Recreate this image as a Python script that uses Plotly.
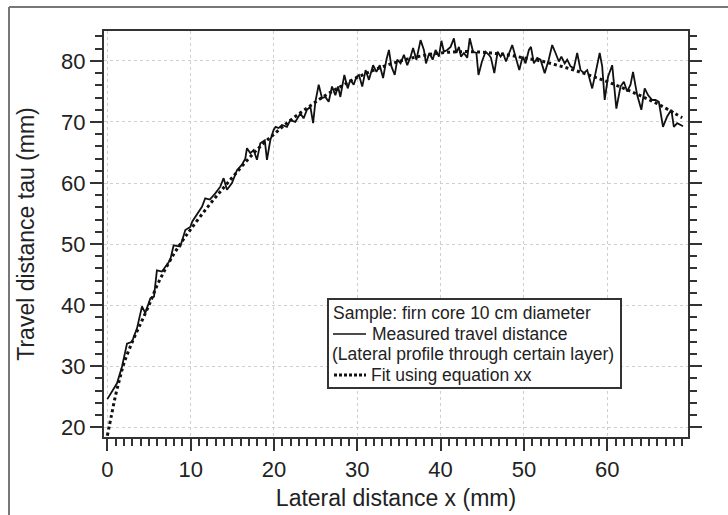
import plotly.graph_objects as go

# Measured travel distance
meas_x = [0.0, 0.75, 1.16, 1.76, 2.36, 2.96, 3.56, 4.16, 4.56, 5.16, 5.6, 5.95, 6.55, 7.15, 7.55, 7.96,
          8.76, 9.36, 9.96, 10.2, 10.76, 11.36, 11.75, 12.3, 12.96, 13.56, 13.96, 14.36, 14.96, 15.56,
          16.16, 16.56, 16.76, 17.16, 17.56, 17.96, 18.36, 18.9, 19.16, 19.56, 19.96, 20.2, 20.56, 20.96,
          21.56, 21.96, 22.56, 23.17, 23.56, 23.96, 24.37, 24.7, 24.97, 25.37, 25.77, 26.17, 26.57, 26.97,
          27.37, 27.7, 27.97, 28.45, 28.85, 29.17, 29.57, 29.9, 30.2, 30.6, 31.0, 31.4, 31.9, 32.3, 32.7,
          33.1, 33.5, 33.8, 34.1, 34.5, 34.8, 35.2, 35.6, 36.0, 36.4, 36.7, 37.1, 37.6, 38.0, 38.25, 38.65,
          39.05, 39.4, 39.8, 40.1, 40.4, 40.8, 41.2, 41.6, 41.9, 42.2, 42.45, 42.8, 43.2, 43.5, 43.9, 44.3,
          44.55, 44.97, 45.4, 45.8, 46.05, 46.45, 46.85, 47.2, 47.5, 47.85, 48.2, 48.6, 49.0, 49.45, 49.85,
          50.2, 50.6, 50.85, 51.2, 51.6, 52.0, 52.5, 52.98, 53.4, 53.8, 54.2, 54.5, 54.9, 55.2, 55.6, 56.0,
          56.4, 56.8, 57.2, 57.6, 58.2, 58.6, 59.1, 59.4, 59.7, 60.1, 60.6, 61.1, 61.6, 62.0, 62.4, 62.8,
          63.1, 63.6, 64.1, 64.5, 64.9, 65.4, 65.8, 66.2, 66.7, 67.2, 67.7, 68.0, 68.4, 69.1]
meas_y = [24.6, 26.3, 27.2, 29.9, 33.7, 34.0, 36.2, 39.8, 38.7, 41.1, 41.4, 45.7, 45.5, 46.6, 47.4, 49.8,
          49.6, 52.3, 52.8, 53.7, 54.8, 56.1, 57.5, 57.3, 58.3, 59.4, 60.8, 58.9, 60.0, 62.1,
          63.0, 64.0, 65.7, 64.9, 65.4, 63.8, 66.5, 67.0, 63.8, 67.0, 68.7, 69.2, 69.0, 69.5,
          69.2, 70.3, 70.0, 71.4, 70.6, 72.0, 72.5, 69.8, 73.3, 76.1, 73.9, 74.1, 73.3, 75.8,
          74.4, 75.8, 74.1, 77.7, 75.5, 76.9, 76.1, 77.4, 77.7, 75.8, 78.5, 76.9, 79.3, 78.2, 79.3,
          77.2, 80.2, 81.8, 79.1, 77.7, 80.2, 79.6, 81.0, 79.3, 80.7, 82.1, 80.2, 83.4, 81.8, 79.6, 81.3,
          80.2, 81.8, 80.7, 83.3, 81.5, 81.8, 82.3, 83.7, 81.3, 82.3, 80.7, 81.3, 80.5, 83.7, 81.5, 81.3,
          77.7, 79.9, 81.5, 81.0, 80.5, 78.0, 81.5, 80.7, 81.3, 79.9, 81.3, 82.6, 80.7, 78.5, 80.7,
          79.6, 81.8, 82.3, 79.6, 80.5, 80.2, 78.0, 80.2, 82.6, 81.3, 79.9, 80.7, 79.6, 80.2, 79.1, 78.8,
          81.3, 78.5, 78.0, 78.5, 75.5, 78.0, 81.3, 79.1, 73.6, 77.4, 79.3, 72.2, 75.8, 76.6, 75.0, 76.1,
          78.2, 74.4, 72.0, 75.5, 74.4, 73.6, 73.6, 73.3, 69.2, 70.9, 72.0, 69.2, 69.8, 69.3]

# Fit curve
fit_x = [0, 0.5, 1, 1.5, 2, 3, 4, 5, 6, 7, 8, 9, 10, 12, 14, 16, 18, 20, 22, 24, 26, 28, 30, 32, 34,
         36, 38, 40, 42, 44, 46, 48, 50, 52, 54, 56, 58, 60, 62, 64, 66, 68, 69]
fit_y = [18.6, 22.0, 25.3, 28.0, 30.5, 34.0, 37.0, 40.0, 43.3, 46.0, 48.4, 50.5, 52.4, 56.0, 59.3, 62.5,
         65.5, 68.0, 70.3, 72.3, 74.2, 75.8, 77.3, 78.5, 79.5, 80.3, 80.9, 81.3, 81.5, 81.5, 81.3, 81.0,
         80.5, 80.0, 79.3, 78.5, 77.6, 76.6, 75.5, 74.3, 73.0, 71.5, 70.7]

x_ticks = [0, 10, 20, 30, 40, 50, 60]
y_ticks = [20, 30, 40, 50, 60, 70, 80]

legend_title = "Sample: firn core 10 cm diameter"
legend_meas = "Measured travel distance"
legend_note = "(Lateral profile through certain layer)"
legend_fit = "Fit using equation xx"

FONT = "Arial, Liberation Sans, sans-serif"
TXT = "#222"

# plot area in pixels (for placing the custom legend box)
L, R, T, B = 104, 688, 31, 437


def px(x):
    return (x - L) / (R - L)


def py(y):
    return (B - y) / (B - T)


fig = go.Figure()
fig.add_trace(go.Scatter(x=fit_x, y=fit_y, mode="lines", line=dict(color="#111", width=3, dash="3px,3px"),
                         line_shape="spline", showlegend=False))
fig.add_trace(go.Scatter(x=meas_x, y=meas_y, mode="lines", line=dict(color="#111", width=1.8),
                         showlegend=False))

axis_common = dict(showline=True, linecolor="#333", linewidth=2, ticks="outside", tickcolor="#333",
                   tickwidth=2, ticklen=12, showgrid=True, gridcolor="#cfcfcf", griddash="dot",
                   gridwidth=1, zeroline=False, automargin=False,
                   tickfont=dict(family=FONT, size=22, color=TXT))

fig.update_xaxes(**axis_common, range=[-0.4, 69.7], tickvals=x_ticks, mirror=True,
                 minor=dict(dtick=1, tick0=0, ticks="outside", ticklen=7, tickwidth=1.5, tickcolor="#333",
                            showgrid=False),
                 title=dict(text="Lateral distance x (mm)", font=dict(family=FONT, size=23, color=TXT),
                            standoff=8))
fig.update_yaxes(**axis_common, range=[18.4, 84.9], tickvals=y_ticks, mirror="ticks",
                 minor=dict(dtick=2, tick0=20, ticks="outside", ticklen=7, tickwidth=1.5, tickcolor="#333",
                            showgrid=False),
                 title=dict(text="Travel distance tau (mm)", font=dict(family=FONT, size=23, color=TXT),
                            standoff=20))

# custom legend box
fig.add_shape(type="rect", xref="paper", yref="paper", x0=px(328), x1=px(621), y0=py(388), y1=py(299),
              line=dict(color="#333", width=2), fillcolor="white", layer="above")
fig.add_shape(type="line", xref="paper", yref="paper", x0=px(333), x1=px(366), y0=py(334), y1=py(334),
              line=dict(color="#111", width=1.5), layer="above")
fig.add_shape(type="line", xref="paper", yref="paper", x0=px(334), x1=px(366), y0=py(375), y1=py(375),
              line=dict(color="#111", width=3, dash="3px,2px"), layer="above")
for txt, x0, y0 in [(legend_title, 332, 313), (legend_meas, 371, 334), (legend_note, 331, 354),
                    (legend_fit, 370, 375)]:
    fig.add_annotation(xref="paper", yref="paper", x=px(x0), y=py(y0), xanchor="left", yanchor="middle",
                       align="left", showarrow=False, text=txt, borderpad=0,
                       font=dict(family=FONT, size=17.5, color=TXT))

# outer page frame
fig.add_shape(type="line", xref="paper", yref="paper", x0=px(9), x1=px(9), y0=py(520), y1=py(7),
              line=dict(color="#777", width=2))
fig.add_shape(type="line", xref="paper", yref="paper", x0=px(9), x1=px(735), y0=py(7), y1=py(7),
              line=dict(color="#777", width=2))

fig.update_layout(width=728, height=515, margin=dict(l=L, r=728 - R, t=T, b=515 - B),
                  paper_bgcolor="white", plot_bgcolor="white", font=dict(family=FONT))

fig.write_html("out.html")
